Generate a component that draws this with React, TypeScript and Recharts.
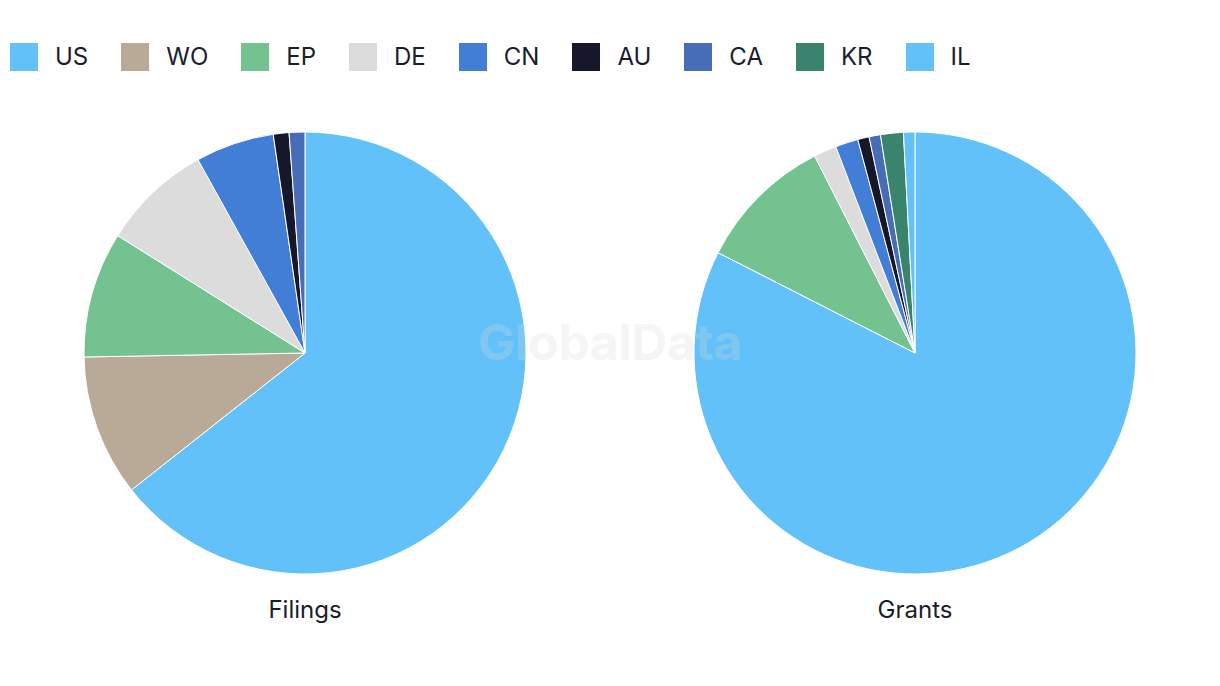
import React from "react";
import { PieChart, Pie, Cell } from "recharts";

const categories = ["US", "WO", "EP", "DE", "CN", "AU", "CA", "KR", "IL"];
const colors = ["#62C1F9", "#B8AA96", "#73C28F", "#DCDCDC", "#427ED6", "#16172B", "#476DB6", "#3A836C", "#62C1F9"];
const filingsValues = [56, 9, 8, 7, 5, 1, 1, 0, 0];
const grantsValues = [99, 0, 12, 2, 2, 1, 1, 2, 1];
const chartTitles = ["Filings", "Grants"];

const build = (vals: number[]) =>
  categories
    .map((name, i) => ({ name, value: vals[i], color: colors[i] }))
    .filter((d) => d.value > 0);

const filingsData = build(filingsValues);
const grantsData = build(grantsValues);

const W = 1220;
const H = 686;
const textColor = "#1A1C2E";
const font = "Inter, 'Noto Sans', sans-serif";

export default function App() {
  return (
    <div style={{ position: "absolute", left: 0, top: 0, width: W, height: H, background: "#fff", fontFamily: font }}>
      <div style={{ position: "absolute", left: 10, top: 43, display: "flex", alignItems: "center", height: 28 }}>
        {categories.map((c, i) => (
          <div key={c} style={{ display: "flex", alignItems: "center", marginRight: 33 }}>
            <div style={{ width: 28, height: 28, background: colors[i], marginRight: 17 }} />
            <span style={{ fontSize: 24, color: textColor, lineHeight: "28px" }}>{c}</span>
          </div>
        ))}
      </div>
      <PieChart
        width={W}
        height={H}
        margin={{ top: 0, right: 0, bottom: 0, left: 0 }}
        style={{ position: "absolute", left: 0, top: 0 }}
      >
        <Pie
          data={filingsData}
          dataKey="value"
          nameKey="name"
          cx={305}
          cy={353}
          outerRadius={221}
          startAngle={90}
          endAngle={-270}
          stroke="#fff"
          strokeWidth={1}
          isAnimationActive={false}
        >
          {filingsData.map((d) => (
            <Cell key={d.name} fill={d.color} />
          ))}
        </Pie>
        <Pie
          data={grantsData}
          dataKey="value"
          nameKey="name"
          cx={915}
          cy={353}
          outerRadius={221}
          startAngle={90}
          endAngle={-270}
          stroke="#fff"
          strokeWidth={1}
          isAnimationActive={false}
        >
          {grantsData.map((d) => (
            <Cell key={d.name} fill={d.color} />
          ))}
        </Pie>
      </PieChart>
      {chartTitles.map((t, i) => (
        <div
          key={t}
          style={{
            position: "absolute",
            left: i === 0 ? 205 : 815,
            width: 200,
            top: 595,
            textAlign: "center",
            fontSize: 24,
            color: textColor,
          }}
        >
          {t}
        </div>
      ))}
      <div
        style={{
          position: "absolute",
          left: 360,
          width: 500,
          top: 312,
          textAlign: "center",
          fontSize: 50,
          fontWeight: 700,
          color: "rgba(215,215,215,0.25)",
          letterSpacing: -0.5,
          pointerEvents: "none",
        }}
      >
        GlobalData
      </div>
    </div>
  );
}
